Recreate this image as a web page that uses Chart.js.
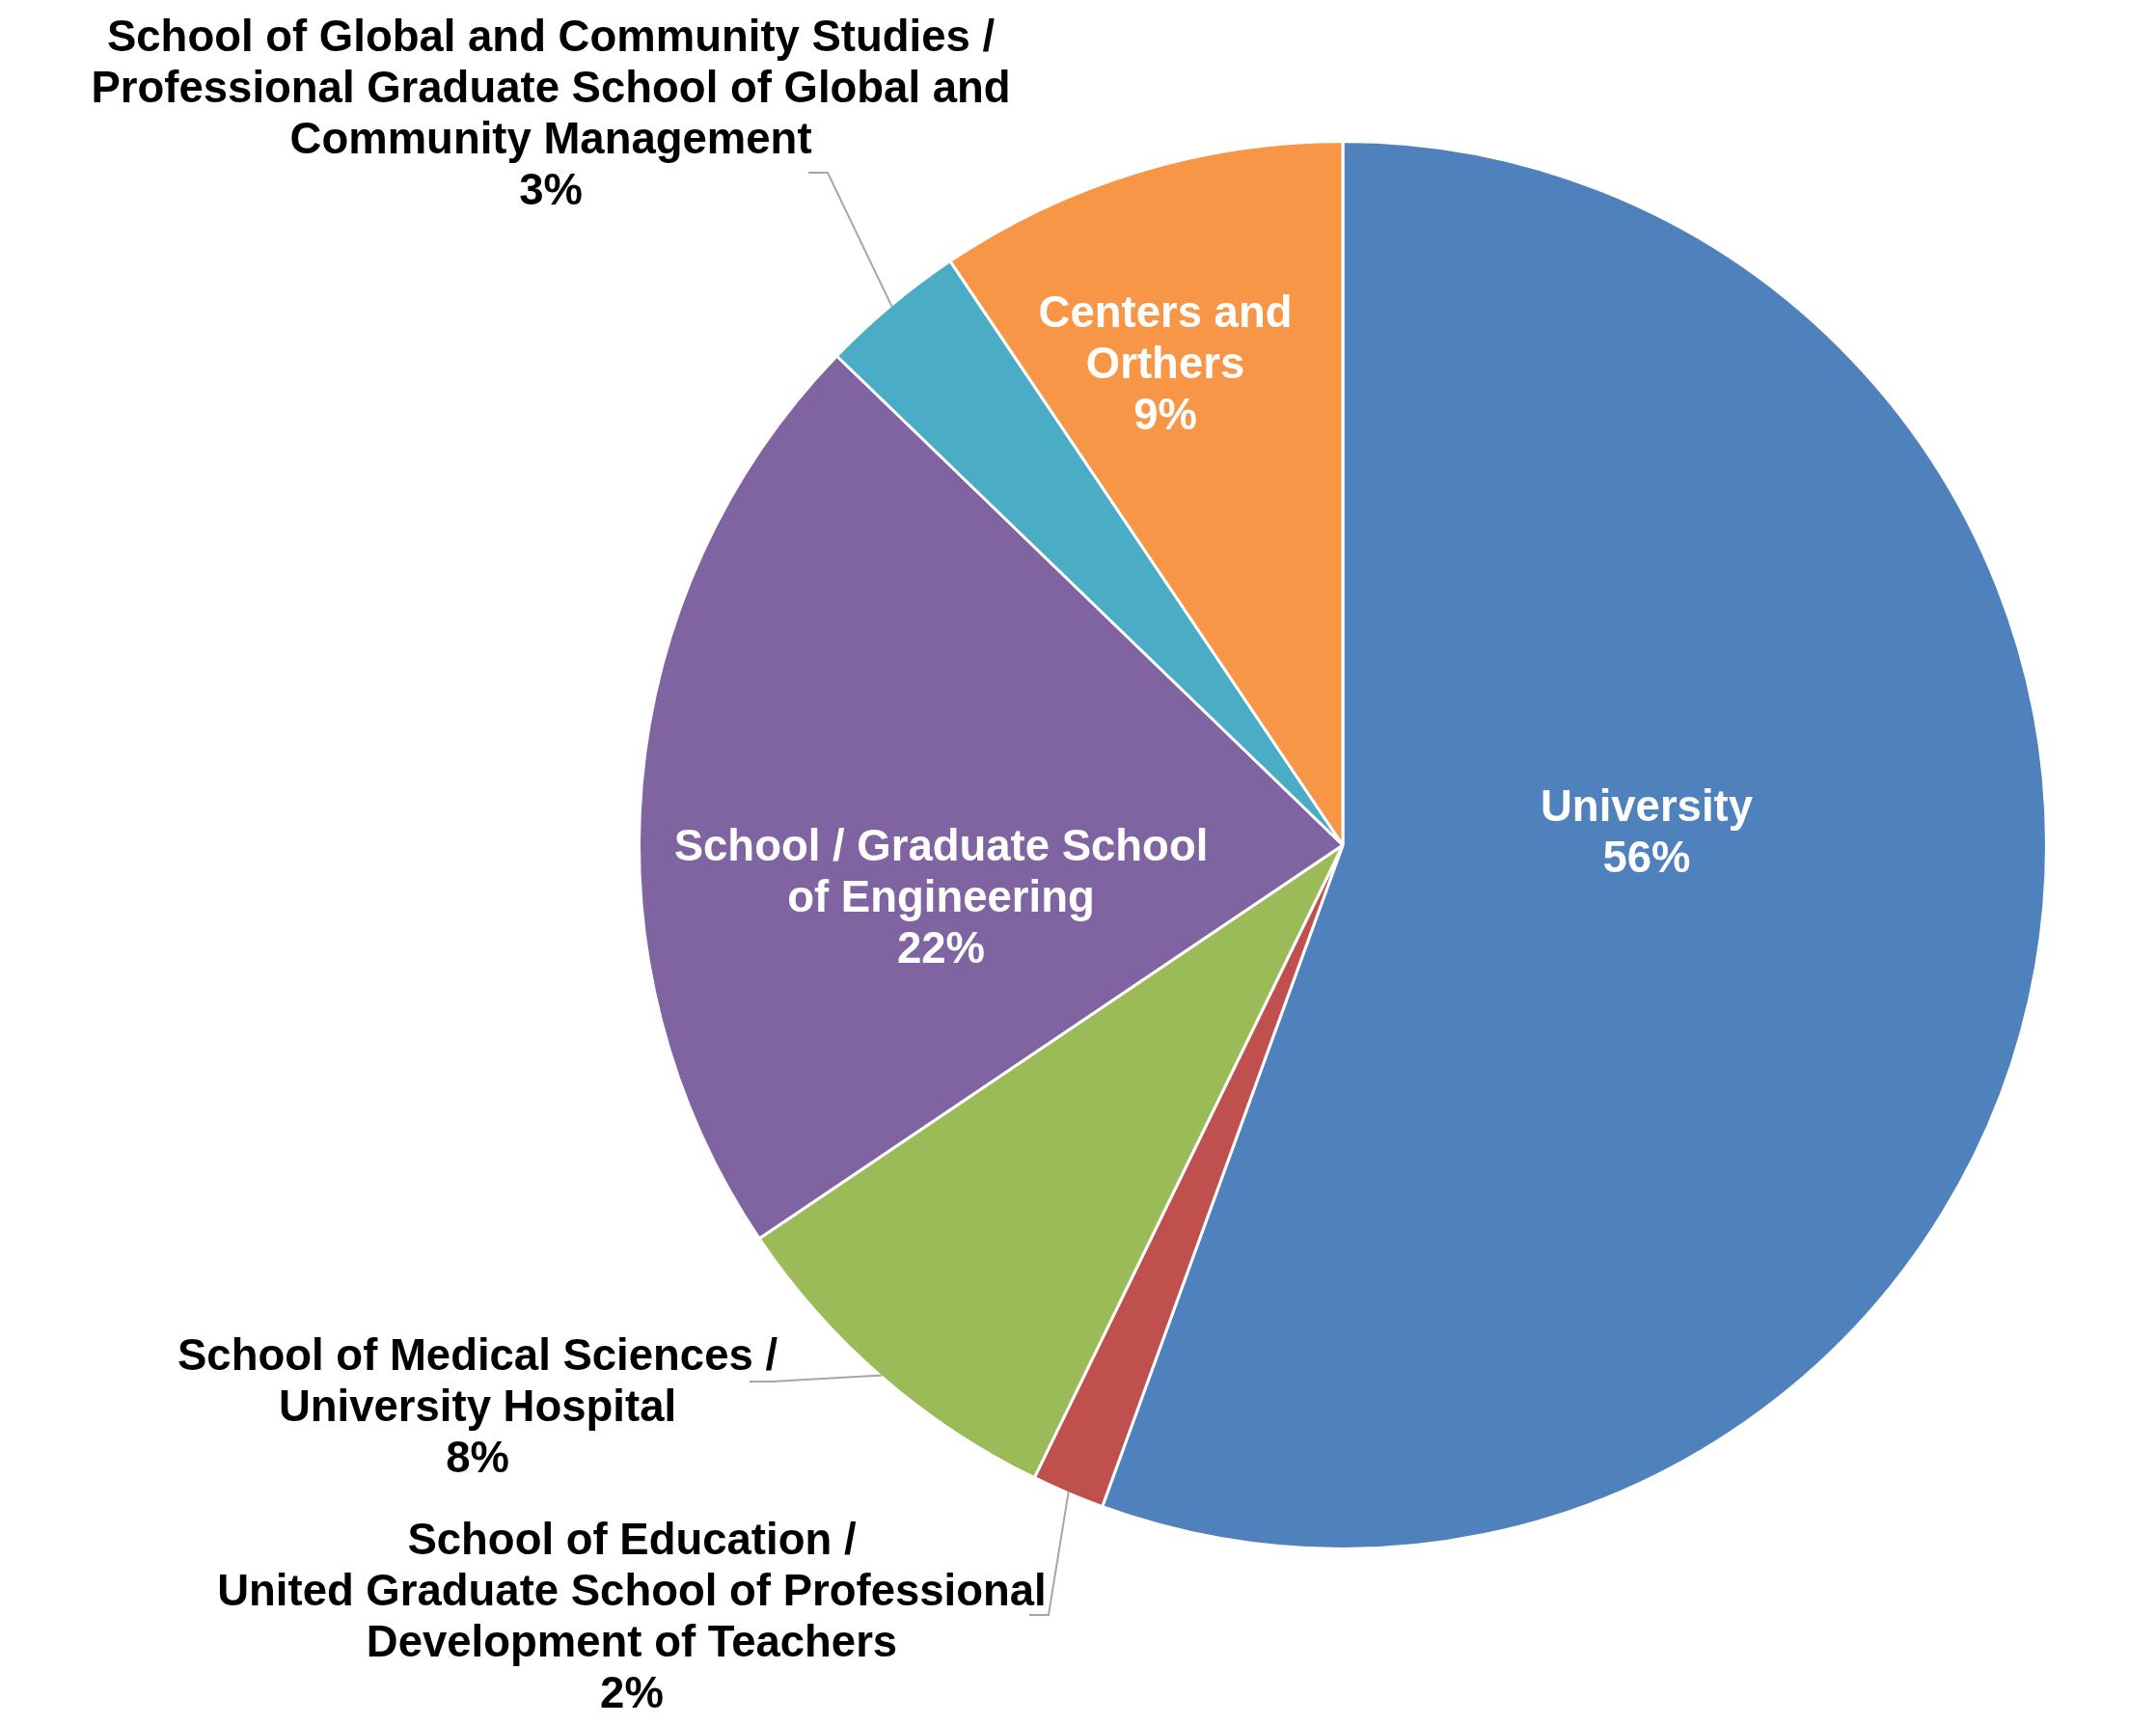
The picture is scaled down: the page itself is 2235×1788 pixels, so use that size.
<!DOCTYPE html>
<html>
<head>
<meta charset="utf-8">
<script src="https://cdn.jsdelivr.net/npm/chart.js@4.4.1/dist/chart.umd.min.js"></script>
<style>
  html, body { margin: 0; padding: 0; background: #ffffff; }
  canvas { display: block; }
</style>
</head>
<body>
<canvas id="chart" width="2235" height="1788"></canvas>
<script>
// ---- Data (clockwise from 12 o'clock) ----
const categories = [
  ["University"],
  ["School of Education /", "United Graduate School of Professional", "Development of Teachers"],
  ["School of Medical Sciences /", "University Hospital"],
  ["School / Graduate School", "of Engineering"],
  ["School of Global and Community Studies /", "Professional Graduate School of Global and", "Community Management"],
  ["Centers and", "Orthers"]
];
const shares = [55.55, 1.67, 8.34, 21.67, 3.35, 9.42];

// ---- Styles ----
const sliceColors = ['#4F81BD', '#C0504D', '#9BBB59', '#8064A2', '#4BACC6', '#F79646'];

// Label placement in units of the pie radius, relative to the pie centre
const labelLayout = [
  { at: [0.4327, -0.0343], color: '#ffffff' },
  { at: [-1.0124, 1.0096], color: '#000000', leader: [[-0.4464, 1.0962], [-0.4190, 1.0962]] },
  { at: [-1.2321, 0.7473], color: '#000000', leader: [[-0.8448, 0.7637], [-0.8132, 0.7637]] },
  { at: [-0.5721, 0.0220], color: '#ffffff' },
  { at: [-1.1277, -1.1305], color: '#000000', leader: [[-0.7610, -0.9574], [-0.7335, -0.9574]] },
  { at: [-0.2527, -0.7376], color: '#ffffff' }
];

const sliceLabels = {
  id: 'sliceLabels',
  afterDatasetsDraw(chart, args, opts) {
    const ctx = chart.ctx;
    const meta = chart.getDatasetMeta(0);
    const data = chart.data.datasets[0].data;
    const total = data.reduce((a, b) => a + b, 0);
    meta.data.forEach((arc, i) => {
      const p = arc.getProps(['x', 'y', 'startAngle', 'endAngle', 'outerRadius'], true);
      const r = p.outerRadius - 1.5;
      const cfg = opts.items[i];
      const lines = [...chart.data.labels[i], Math.round(data[i] / total * 100) + '%'];
      ctx.save();
      if (cfg.leader) {
        const mid = (p.startAngle + p.endAngle) / 2;
        const ex = p.x + Math.cos(mid) * r;
        const ey = p.y + Math.sin(mid) * r;
        ctx.strokeStyle = opts.leaderColor;
        ctx.lineWidth = opts.leaderWidth;
        ctx.lineJoin = 'miter';
        ctx.beginPath();
        ctx.moveTo(p.x + cfg.leader[0][0] * r, p.y + cfg.leader[0][1] * r);
        ctx.lineTo(p.x + cfg.leader[1][0] * r, p.y + cfg.leader[1][1] * r);
        ctx.lineTo(ex, ey);
        ctx.stroke();
      }
      ctx.font = opts.font;
      ctx.fillStyle = cfg.color;
      ctx.textAlign = 'center';
      ctx.textBaseline = 'alphabetic';
      const x = p.x + cfg.at[0] * r;
      const y = p.y + cfg.at[1] * r;
      lines.forEach((t, k) => ctx.fillText(t, x, y + k * opts.lineHeight));
      ctx.restore();
    });
  }
};

new Chart(document.getElementById('chart'), {
  type: 'pie',
  data: {
    labels: categories,
    datasets: [{
      data: shares,
      backgroundColor: sliceColors,
      borderColor: '#ffffff',
      borderWidth: 3
    }]
  },
  options: {
    responsive: false,
    devicePixelRatio: 1,
    animation: false,
    layout: { padding: { top: 145, bottom: 181, left: 661, right: 112 } },
    plugins: {
      legend: { display: false },
      tooltip: { enabled: false },
      sliceLabels: {
        items: labelLayout,
        font: 'bold 45.5px "Liberation Sans", Arial, sans-serif',
        lineHeight: 53,
        leaderColor: '#A6A6A6',
        leaderWidth: 2
      }
    }
  },
  plugins: [sliceLabels]
});
</script>
</body>
</html>
